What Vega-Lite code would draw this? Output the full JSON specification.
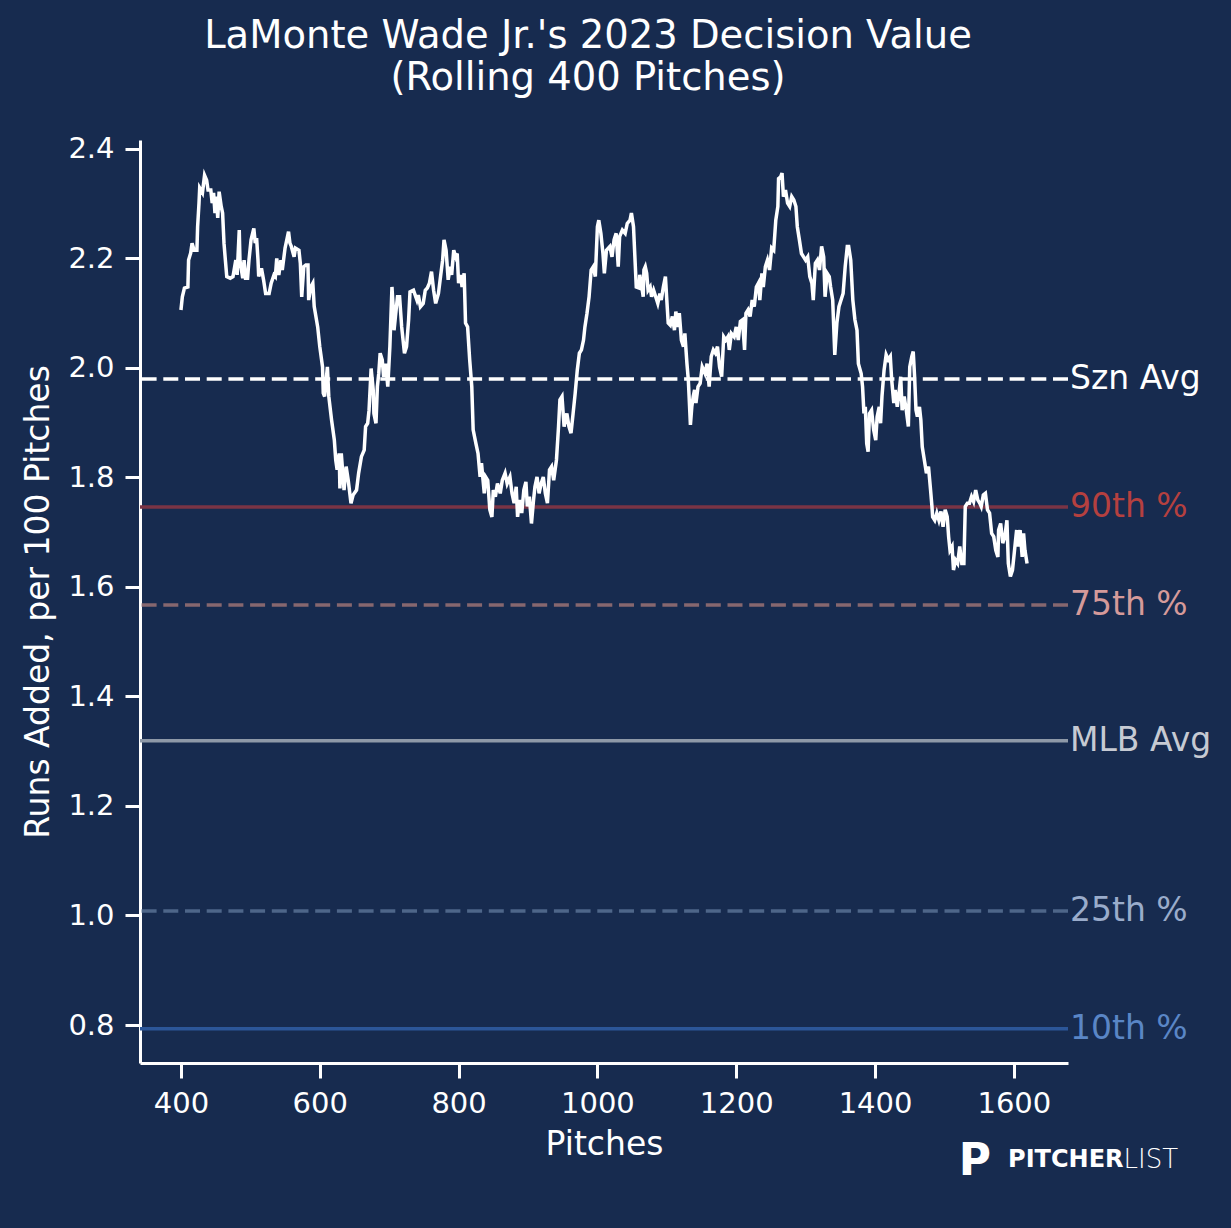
{
  "$schema": "https://vega.github.io/schema/vega-lite/v6.json",
  "width": 928,
  "height": 923,
  "autosize": {"type": "none"},
  "padding": {"left": 140, "top": 140, "right": 163, "bottom": 165},
  "background": "#172B4F",
  "title": {
    "text": ["LaMonte Wade Jr.'s 2023 Decision Value", "(Rolling 400 Pitches)"],
    "fontSize": 38.5,
    "fontWeight": "normal",
    "font": "DejaVu Sans",
    "color": "white",
    "lineHeight": 42,
    "offset": 36,
    "dx": -16,
    "anchor": "middle"
  },
  "datasets": {
    "rolling": [
      {"pitch": 400, "value": 2.106}, {"pitch": 402, "value": 2.130}, {"pitch": 405, "value": 2.146}, {"pitch": 410, "value": 2.148},
      {"pitch": 411, "value": 2.197}, {"pitch": 414, "value": 2.210}, {"pitch": 416, "value": 2.228}, {"pitch": 419, "value": 2.215},
      {"pitch": 423, "value": 2.215}, {"pitch": 424, "value": 2.258}, {"pitch": 426, "value": 2.301}, {"pitch": 427, "value": 2.329},
      {"pitch": 431, "value": 2.320}, {"pitch": 434, "value": 2.352}, {"pitch": 437, "value": 2.343}, {"pitch": 439, "value": 2.325},
      {"pitch": 443, "value": 2.325}, {"pitch": 445, "value": 2.301}, {"pitch": 447, "value": 2.320}, {"pitch": 449, "value": 2.283},
      {"pitch": 451, "value": 2.313}, {"pitch": 453, "value": 2.274}, {"pitch": 455, "value": 2.322}, {"pitch": 458, "value": 2.295},
      {"pitch": 460, "value": 2.283}, {"pitch": 462, "value": 2.228}, {"pitch": 464, "value": 2.197}, {"pitch": 466, "value": 2.167},
      {"pitch": 471, "value": 2.164}, {"pitch": 475, "value": 2.167}, {"pitch": 479, "value": 2.197}, {"pitch": 481, "value": 2.170},
      {"pitch": 484, "value": 2.252}, {"pitch": 485, "value": 2.197}, {"pitch": 489, "value": 2.164}, {"pitch": 491, "value": 2.197},
      {"pitch": 493, "value": 2.164}, {"pitch": 496, "value": 2.164}, {"pitch": 498, "value": 2.197}, {"pitch": 501, "value": 2.234},
      {"pitch": 505, "value": 2.255}, {"pitch": 507, "value": 2.228}, {"pitch": 509, "value": 2.237}, {"pitch": 511, "value": 2.197},
      {"pitch": 512, "value": 2.167}, {"pitch": 516, "value": 2.182}, {"pitch": 519, "value": 2.161}, {"pitch": 522, "value": 2.136},
      {"pitch": 527, "value": 2.136}, {"pitch": 530, "value": 2.155}, {"pitch": 534, "value": 2.170}, {"pitch": 536, "value": 2.167},
      {"pitch": 538, "value": 2.200}, {"pitch": 541, "value": 2.170}, {"pitch": 544, "value": 2.197}, {"pitch": 546, "value": 2.179},
      {"pitch": 550, "value": 2.219}, {"pitch": 555, "value": 2.249}, {"pitch": 557, "value": 2.228}, {"pitch": 559, "value": 2.222},
      {"pitch": 563, "value": 2.203}, {"pitch": 565, "value": 2.219}, {"pitch": 570, "value": 2.215}, {"pitch": 572, "value": 2.191},
      {"pitch": 574, "value": 2.130}, {"pitch": 577, "value": 2.185}, {"pitch": 580, "value": 2.188}, {"pitch": 583, "value": 2.188},
      {"pitch": 584, "value": 2.124}, {"pitch": 587, "value": 2.148}, {"pitch": 590, "value": 2.155}, {"pitch": 592, "value": 2.112},
      {"pitch": 597, "value": 2.075}, {"pitch": 600, "value": 2.039}, {"pitch": 604, "value": 2.002}, {"pitch": 605, "value": 1.954},
      {"pitch": 607, "value": 1.948}, {"pitch": 611, "value": 2.002}, {"pitch": 613, "value": 1.948}, {"pitch": 617, "value": 1.905},
      {"pitch": 621, "value": 1.868}, {"pitch": 623, "value": 1.832}, {"pitch": 625, "value": 1.814}, {"pitch": 628, "value": 1.844},
      {"pitch": 629, "value": 1.780}, {"pitch": 631, "value": 1.844}, {"pitch": 635, "value": 1.777}, {"pitch": 638, "value": 1.820},
      {"pitch": 641, "value": 1.795}, {"pitch": 645, "value": 1.753}, {"pitch": 648, "value": 1.768}, {"pitch": 653, "value": 1.777},
      {"pitch": 656, "value": 1.808}, {"pitch": 660, "value": 1.838}, {"pitch": 664, "value": 1.850}, {"pitch": 666, "value": 1.893},
      {"pitch": 669, "value": 1.899}, {"pitch": 671, "value": 1.923}, {"pitch": 674, "value": 1.999}, {"pitch": 677, "value": 1.960},
      {"pitch": 678, "value": 1.917}, {"pitch": 681, "value": 1.899}, {"pitch": 683, "value": 1.966}, {"pitch": 685, "value": 1.990},
      {"pitch": 687, "value": 2.027}, {"pitch": 690, "value": 2.015}, {"pitch": 692, "value": 1.984}, {"pitch": 695, "value": 2.008},
      {"pitch": 698, "value": 1.966}, {"pitch": 701, "value": 2.039}, {"pitch": 704, "value": 2.148}, {"pitch": 706, "value": 2.106},
      {"pitch": 707, "value": 2.069}, {"pitch": 709, "value": 2.094}, {"pitch": 712, "value": 2.130}, {"pitch": 715, "value": 2.130},
      {"pitch": 718, "value": 2.075}, {"pitch": 722, "value": 2.027}, {"pitch": 725, "value": 2.039}, {"pitch": 728, "value": 2.088},
      {"pitch": 730, "value": 2.139}, {"pitch": 735, "value": 2.142}, {"pitch": 740, "value": 2.124}, {"pitch": 742, "value": 2.133},
      {"pitch": 745, "value": 2.112}, {"pitch": 749, "value": 2.118}, {"pitch": 752, "value": 2.142}, {"pitch": 755, "value": 2.146},
      {"pitch": 758, "value": 2.155}, {"pitch": 761, "value": 2.176}, {"pitch": 764, "value": 2.142}, {"pitch": 767, "value": 2.118},
      {"pitch": 771, "value": 2.136}, {"pitch": 774, "value": 2.167}, {"pitch": 777, "value": 2.197}, {"pitch": 779, "value": 2.234},
      {"pitch": 782, "value": 2.215}, {"pitch": 785, "value": 2.161}, {"pitch": 788, "value": 2.185}, {"pitch": 790, "value": 2.170},
      {"pitch": 793, "value": 2.215}, {"pitch": 796, "value": 2.203}, {"pitch": 798, "value": 2.209}, {"pitch": 800, "value": 2.155},
      {"pitch": 803, "value": 2.170}, {"pitch": 805, "value": 2.148}, {"pitch": 808, "value": 2.173}, {"pitch": 810, "value": 2.082},
      {"pitch": 813, "value": 2.075}, {"pitch": 816, "value": 2.015}, {"pitch": 819, "value": 1.966}, {"pitch": 821, "value": 1.887},
      {"pitch": 825, "value": 1.862}, {"pitch": 828, "value": 1.844}, {"pitch": 831, "value": 1.801}, {"pitch": 833, "value": 1.826},
      {"pitch": 837, "value": 1.771}, {"pitch": 839, "value": 1.801}, {"pitch": 842, "value": 1.795}, {"pitch": 845, "value": 1.741},
      {"pitch": 848, "value": 1.728}, {"pitch": 850, "value": 1.777}, {"pitch": 853, "value": 1.765}, {"pitch": 856, "value": 1.789},
      {"pitch": 860, "value": 1.771}, {"pitch": 863, "value": 1.795}, {"pitch": 867, "value": 1.808}, {"pitch": 870, "value": 1.789},
      {"pitch": 874, "value": 1.801}, {"pitch": 877, "value": 1.771}, {"pitch": 880, "value": 1.753}, {"pitch": 883, "value": 1.783},
      {"pitch": 885, "value": 1.728}, {"pitch": 888, "value": 1.759}, {"pitch": 891, "value": 1.735}, {"pitch": 894, "value": 1.777},
      {"pitch": 897, "value": 1.792}, {"pitch": 899, "value": 1.747}, {"pitch": 902, "value": 1.765}, {"pitch": 905, "value": 1.716},
      {"pitch": 908, "value": 1.759}, {"pitch": 910, "value": 1.783}, {"pitch": 913, "value": 1.801}, {"pitch": 916, "value": 1.771},
      {"pitch": 919, "value": 1.789}, {"pitch": 922, "value": 1.801}, {"pitch": 925, "value": 1.771}, {"pitch": 928, "value": 1.753},
      {"pitch": 931, "value": 1.814}, {"pitch": 934, "value": 1.820}, {"pitch": 937, "value": 1.795}, {"pitch": 941, "value": 1.832},
      {"pitch": 944, "value": 1.893}, {"pitch": 946, "value": 1.942}, {"pitch": 949, "value": 1.948}, {"pitch": 952, "value": 1.893},
      {"pitch": 956, "value": 1.917}, {"pitch": 959, "value": 1.893}, {"pitch": 962, "value": 1.881}, {"pitch": 965, "value": 1.917},
      {"pitch": 968, "value": 1.954}, {"pitch": 971, "value": 1.996}, {"pitch": 974, "value": 2.027}, {"pitch": 977, "value": 2.033},
      {"pitch": 980, "value": 2.051}, {"pitch": 982, "value": 2.075}, {"pitch": 985, "value": 2.100}, {"pitch": 988, "value": 2.130},
      {"pitch": 991, "value": 2.179}, {"pitch": 994, "value": 2.185}, {"pitch": 997, "value": 2.167}, {"pitch": 1000, "value": 2.258},
      {"pitch": 1002, "value": 2.270}, {"pitch": 1005, "value": 2.246}, {"pitch": 1008, "value": 2.209}, {"pitch": 1010, "value": 2.173},
      {"pitch": 1013, "value": 2.215}, {"pitch": 1018, "value": 2.222}, {"pitch": 1021, "value": 2.203}, {"pitch": 1024, "value": 2.234},
      {"pitch": 1027, "value": 2.246}, {"pitch": 1030, "value": 2.185}, {"pitch": 1032, "value": 2.240}, {"pitch": 1036, "value": 2.252},
      {"pitch": 1040, "value": 2.246}, {"pitch": 1043, "value": 2.264}, {"pitch": 1047, "value": 2.270}, {"pitch": 1049, "value": 2.283},
      {"pitch": 1052, "value": 2.258}, {"pitch": 1054, "value": 2.203}, {"pitch": 1056, "value": 2.148}, {"pitch": 1060, "value": 2.146},
      {"pitch": 1061, "value": 2.170}, {"pitch": 1064, "value": 2.148}, {"pitch": 1066, "value": 2.130}, {"pitch": 1067, "value": 2.179},
      {"pitch": 1069, "value": 2.185}, {"pitch": 1071, "value": 2.173}, {"pitch": 1073, "value": 2.142}, {"pitch": 1076, "value": 2.148},
      {"pitch": 1078, "value": 2.130}, {"pitch": 1081, "value": 2.142}, {"pitch": 1084, "value": 2.130}, {"pitch": 1087, "value": 2.118},
      {"pitch": 1090, "value": 2.136}, {"pitch": 1092, "value": 2.124}, {"pitch": 1095, "value": 2.148}, {"pitch": 1098, "value": 2.167},
      {"pitch": 1100, "value": 2.124}, {"pitch": 1102, "value": 2.082}, {"pitch": 1105, "value": 2.078}, {"pitch": 1108, "value": 2.094},
      {"pitch": 1111, "value": 2.069}, {"pitch": 1113, "value": 2.103}, {"pitch": 1116, "value": 2.075}, {"pitch": 1118, "value": 2.100},
      {"pitch": 1121, "value": 2.051}, {"pitch": 1124, "value": 2.039}, {"pitch": 1126, "value": 2.063}, {"pitch": 1129, "value": 2.008},
      {"pitch": 1131, "value": 1.978}, {"pitch": 1134, "value": 1.896}, {"pitch": 1136, "value": 1.929}, {"pitch": 1138, "value": 1.948},
      {"pitch": 1140, "value": 1.960}, {"pitch": 1142, "value": 1.936}, {"pitch": 1145, "value": 1.966}, {"pitch": 1148, "value": 1.972},
      {"pitch": 1151, "value": 2.002}, {"pitch": 1155, "value": 1.990}, {"pitch": 1158, "value": 2.008}, {"pitch": 1161, "value": 1.966},
      {"pitch": 1164, "value": 2.021}, {"pitch": 1167, "value": 2.033}, {"pitch": 1170, "value": 2.027}, {"pitch": 1173, "value": 2.039},
      {"pitch": 1176, "value": 2.002}, {"pitch": 1179, "value": 1.984}, {"pitch": 1182, "value": 2.057}, {"pitch": 1185, "value": 2.051},
      {"pitch": 1188, "value": 2.057}, {"pitch": 1190, "value": 2.033}, {"pitch": 1193, "value": 2.063}, {"pitch": 1197, "value": 2.057},
      {"pitch": 1200, "value": 2.075}, {"pitch": 1203, "value": 2.051}, {"pitch": 1206, "value": 2.085}, {"pitch": 1209, "value": 2.088},
      {"pitch": 1212, "value": 2.033}, {"pitch": 1214, "value": 2.100}, {"pitch": 1217, "value": 2.106}, {"pitch": 1220, "value": 2.094},
      {"pitch": 1223, "value": 2.124}, {"pitch": 1226, "value": 2.112}, {"pitch": 1229, "value": 2.148}, {"pitch": 1232, "value": 2.155},
      {"pitch": 1234, "value": 2.124}, {"pitch": 1237, "value": 2.173}, {"pitch": 1239, "value": 2.148}, {"pitch": 1242, "value": 2.185},
      {"pitch": 1245, "value": 2.197}, {"pitch": 1248, "value": 2.179}, {"pitch": 1251, "value": 2.219}, {"pitch": 1254, "value": 2.215},
      {"pitch": 1257, "value": 2.270}, {"pitch": 1260, "value": 2.295}, {"pitch": 1261, "value": 2.346}, {"pitch": 1264, "value": 2.349},
      {"pitch": 1266, "value": 2.356}, {"pitch": 1268, "value": 2.313}, {"pitch": 1271, "value": 2.325}, {"pitch": 1274, "value": 2.301},
      {"pitch": 1277, "value": 2.295}, {"pitch": 1280, "value": 2.313}, {"pitch": 1283, "value": 2.307}, {"pitch": 1286, "value": 2.295},
      {"pitch": 1288, "value": 2.258}, {"pitch": 1291, "value": 2.234}, {"pitch": 1294, "value": 2.209}, {"pitch": 1297, "value": 2.203},
      {"pitch": 1300, "value": 2.197}, {"pitch": 1303, "value": 2.203}, {"pitch": 1306, "value": 2.167}, {"pitch": 1309, "value": 2.155},
      {"pitch": 1311, "value": 2.124}, {"pitch": 1314, "value": 2.191}, {"pitch": 1317, "value": 2.197}, {"pitch": 1320, "value": 2.179},
      {"pitch": 1323, "value": 2.222}, {"pitch": 1326, "value": 2.203}, {"pitch": 1328, "value": 2.130}, {"pitch": 1331, "value": 2.173},
      {"pitch": 1334, "value": 2.167}, {"pitch": 1336, "value": 2.148}, {"pitch": 1339, "value": 2.124}, {"pitch": 1342, "value": 2.024},
      {"pitch": 1345, "value": 2.082}, {"pitch": 1348, "value": 2.112}, {"pitch": 1351, "value": 2.124}, {"pitch": 1354, "value": 2.136},
      {"pitch": 1357, "value": 2.185}, {"pitch": 1360, "value": 2.222}, {"pitch": 1362, "value": 2.222}, {"pitch": 1365, "value": 2.197},
      {"pitch": 1368, "value": 2.124}, {"pitch": 1371, "value": 2.088}, {"pitch": 1374, "value": 2.069}, {"pitch": 1376, "value": 2.008},
      {"pitch": 1380, "value": 1.990}, {"pitch": 1382, "value": 1.966}, {"pitch": 1384, "value": 1.917}, {"pitch": 1386, "value": 1.929},
      {"pitch": 1388, "value": 1.862}, {"pitch": 1390, "value": 1.847}, {"pitch": 1392, "value": 1.917}, {"pitch": 1395, "value": 1.923},
      {"pitch": 1398, "value": 1.887}, {"pitch": 1401, "value": 1.868}, {"pitch": 1403, "value": 1.911}, {"pitch": 1406, "value": 1.929},
      {"pitch": 1408, "value": 1.899}, {"pitch": 1410, "value": 1.948}, {"pitch": 1413, "value": 1.996}, {"pitch": 1416, "value": 2.024},
      {"pitch": 1419, "value": 2.015}, {"pitch": 1422, "value": 2.021}, {"pitch": 1424, "value": 1.978}, {"pitch": 1427, "value": 1.936},
      {"pitch": 1429, "value": 1.960}, {"pitch": 1432, "value": 1.929}, {"pitch": 1434, "value": 1.948}, {"pitch": 1437, "value": 1.984},
      {"pitch": 1439, "value": 1.923}, {"pitch": 1442, "value": 1.948}, {"pitch": 1445, "value": 1.923}, {"pitch": 1448, "value": 1.893},
      {"pitch": 1450, "value": 2.002}, {"pitch": 1453, "value": 2.021}, {"pitch": 1455, "value": 2.030}, {"pitch": 1457, "value": 1.984},
      {"pitch": 1459, "value": 1.923}, {"pitch": 1461, "value": 1.911}, {"pitch": 1464, "value": 1.929}, {"pitch": 1466, "value": 1.905},
      {"pitch": 1468, "value": 1.856}, {"pitch": 1471, "value": 1.832}, {"pitch": 1474, "value": 1.808}, {"pitch": 1477, "value": 1.820},
      {"pitch": 1480, "value": 1.777}, {"pitch": 1482, "value": 1.747}, {"pitch": 1483, "value": 1.728}, {"pitch": 1486, "value": 1.722},
      {"pitch": 1489, "value": 1.735}, {"pitch": 1492, "value": 1.722}, {"pitch": 1495, "value": 1.738}, {"pitch": 1498, "value": 1.710},
      {"pitch": 1501, "value": 1.741}, {"pitch": 1504, "value": 1.728}, {"pitch": 1506, "value": 1.692}, {"pitch": 1508, "value": 1.667},
      {"pitch": 1511, "value": 1.674}, {"pitch": 1513, "value": 1.631}, {"pitch": 1516, "value": 1.649}, {"pitch": 1519, "value": 1.643},
      {"pitch": 1522, "value": 1.674}, {"pitch": 1525, "value": 1.643}, {"pitch": 1528, "value": 1.643}, {"pitch": 1530, "value": 1.747},
      {"pitch": 1533, "value": 1.753}, {"pitch": 1536, "value": 1.753}, {"pitch": 1539, "value": 1.765}, {"pitch": 1542, "value": 1.756},
      {"pitch": 1545, "value": 1.777}, {"pitch": 1548, "value": 1.759}, {"pitch": 1551, "value": 1.753}, {"pitch": 1553, "value": 1.747},
      {"pitch": 1556, "value": 1.768}, {"pitch": 1559, "value": 1.771}, {"pitch": 1562, "value": 1.741}, {"pitch": 1565, "value": 1.735},
      {"pitch": 1568, "value": 1.698}, {"pitch": 1571, "value": 1.692}, {"pitch": 1574, "value": 1.667}, {"pitch": 1577, "value": 1.655},
      {"pitch": 1578, "value": 1.704}, {"pitch": 1581, "value": 1.716}, {"pitch": 1584, "value": 1.680}, {"pitch": 1587, "value": 1.692},
      {"pitch": 1590, "value": 1.722}, {"pitch": 1592, "value": 1.643}, {"pitch": 1595, "value": 1.619}, {"pitch": 1598, "value": 1.631},
      {"pitch": 1600, "value": 1.655}, {"pitch": 1602, "value": 1.680}, {"pitch": 1604, "value": 1.704}, {"pitch": 1606, "value": 1.674},
      {"pitch": 1609, "value": 1.704}, {"pitch": 1612, "value": 1.655}, {"pitch": 1614, "value": 1.698}, {"pitch": 1616, "value": 1.667},
      {"pitch": 1619, "value": 1.643}
    ],
    "benchmarks": [
      {"label": "Szn Avg", "value": 1.98},
      {"label": "90th %", "value": 1.746},
      {"label": "75th %", "value": 1.567},
      {"label": "MLB Avg", "value": 1.319},
      {"label": "25th %", "value": 1.008},
      {"label": "10th %", "value": 0.793}
    ]
  },
  "layer": [
    {
      "data": {"name": "benchmarks"},
      "mark": {"type": "rule", "strokeWidth": 3.5},
      "encoding": {
        "y": {"field": "value", "type": "quantitative", "scale": {"domain": [0.7306, 2.4164], "nice": false, "zero": false}},
        "stroke": {
          "field": "label", "type": "nominal", "legend": null,
          "scale": {
            "domain": ["Szn Avg", "90th %", "75th %", "MLB Avg", "25th %", "10th %"],
            "range": ["#ffffff", "#7a3445", "#86676f", "#8e99a8", "#4e6689", "#2c5698"]
          }
        },
        "strokeDash": {
          "field": "label", "type": "nominal", "legend": null,
          "scale": {
            "domain": ["Szn Avg", "90th %", "75th %", "MLB Avg", "25th %", "10th %"],
            "range": [[15, 6.7], [1, 0], [15, 6.7], [1, 0], [15, 6.7], [1, 0]]
          }
        }
      }
    },
    {
      "data": {"name": "benchmarks"},
      "mark": {"type": "text", "align": "left", "baseline": "middle", "dx": 2, "fontSize": 33, "font": "DejaVu Sans"},
      "encoding": {
        "x": {"datum": 1678},
        "y": {"field": "value", "type": "quantitative"},
        "text": {"field": "label"},
        "fill": {
          "field": "label", "type": "nominal", "legend": null,
          "scale": {
            "domain": ["Szn Avg", "90th %", "75th %", "MLB Avg", "25th %", "10th %"],
            "range": ["#ffffff", "#b5403f", "#d59a9a", "#c6cad3", "#9aaccb", "#5a86c6"]
          }
        }
      }
    },
    {
      "data": {"name": "rolling"},
      "mark": {"type": "line", "color": "white", "strokeWidth": 3.5},
      "encoding": {
        "x": {
          "field": "pitch", "type": "quantitative", "title": "Pitches",
          "scale": {"domain": [341, 1678], "nice": false, "zero": false},
          "axis": {"values": [400, 600, 800, 1000, 1200, 1400, 1600], "format": "d"}
        },
        "y": {
          "field": "value", "type": "quantitative", "title": "Runs Added, per 100 Pitches",
          "axis": {"values": [0.8, 1.0, 1.2, 1.4, 1.6, 1.8, 2.0, 2.2, 2.4], "format": ".1f"}
        }
      }
    },
    {
      "data": {"values": [{"brand": "PITCHER"}]},
      "mark": {"type": "text", "align": "right", "baseline": "middle", "fontSize": 24, "fontWeight": "bold", "font": "DejaVu Sans", "color": "white"},
      "encoding": {"x": {"datum": 1758}, "y": {"datum": 0.553}, "text": {"field": "brand"}}
    },
    {
      "data": {"values": [{"brand": "LIST"}]},
      "mark": {"type": "text", "align": "left", "baseline": "middle", "fontSize": 26, "fontWeight": 300, "font": "DejaVu Sans", "color": "white"},
      "encoding": {"x": {"datum": 1758}, "y": {"datum": 0.553}, "text": {"field": "brand"}}
    },
    {
      "data": {"values": [{"brand": "P"}]},
      "mark": {"type": "text", "align": "center", "baseline": "middle", "fontSize": 44, "fontWeight": "bold", "font": "DejaVu Sans", "color": "white"},
      "encoding": {"x": {"datum": 1544}, "y": {"datum": 0.55}, "text": {"field": "brand"}}
    }
  ],
  "config": {
    "view": {"stroke": null},
    "font": "DejaVu Sans",
    "axis": {
      "grid": false,
      "domainColor": "white",
      "domainWidth": 3,
      "tickColor": "white",
      "tickWidth": 3,
      "tickSize": 15,
      "labelColor": "white",
      "labelFont": "DejaVu Sans",
      "labelFontSize": 29,
      "labelPadding": 11,
      "titleColor": "white",
      "titleFont": "DejaVu Sans",
      "titleFontSize": 33,
      "titleFontWeight": "normal"
    },
    "axisX": {"titlePadding": 10},
    "axisY": {"titlePadding": 12}
  }
}
